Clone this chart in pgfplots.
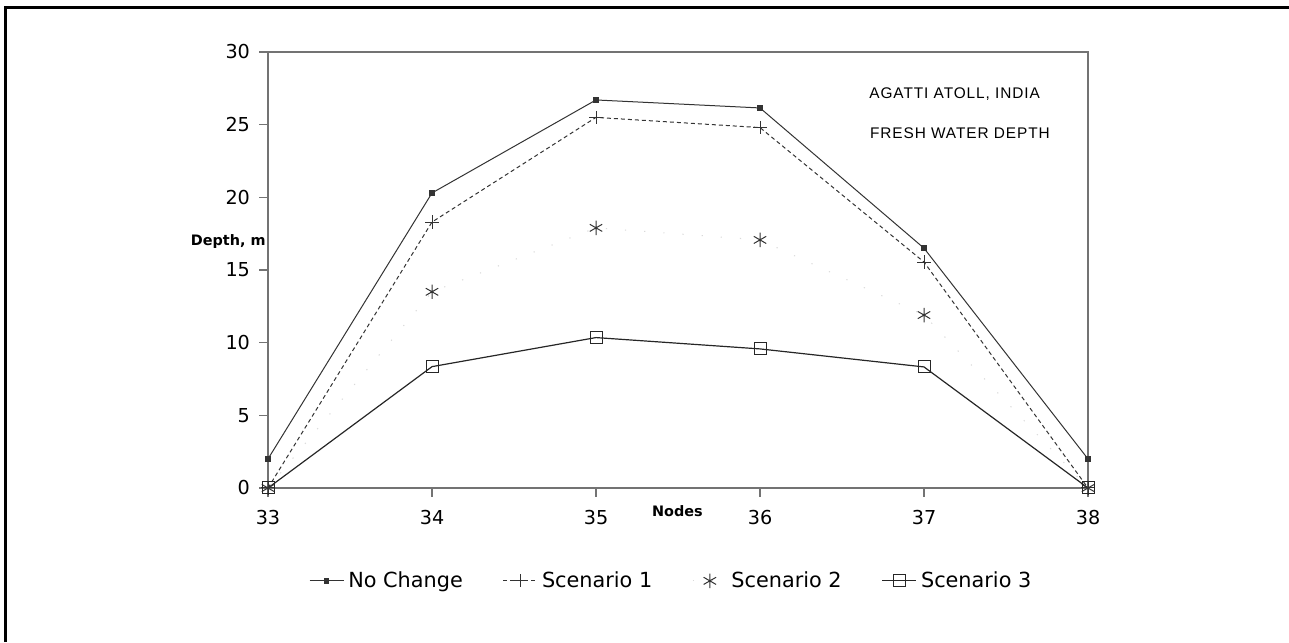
\documentclass[border=0pt]{standalone}
\usepackage{pgfplots}
\pgfplotsset{compat=1.18}
\usepackage{fontspec}
\setmainfont{DejaVu Sans}
\newfontfamily\spaced{Liberation Sans}[LetterSpace=6]
\usetikzlibrary{plotmarks}
\begin{document}
\begin{tikzpicture}
\useasboundingbox (0,0) rectangle (644.5pt,321pt);
\draw[line width=1.5pt,black] (2.5pt,0) -- (2.5pt,317pt) -- (650pt,317pt);
\begin{axis}[
  at={(134pt,77pt)}, anchor=south west,
  scale only axis, width=410pt, height=218pt,
  xmin=33, xmax=38, ymin=0, ymax=30,
  xtick={33,34,35,36,37,38}, ytick={0,5,10,15,20,25,30},
  axis line style={black!55, line width=0.6pt},
  tick style={black!55, line width=0.6pt},
  tick align=outside, tick pos=left,
  major tick length=4.5pt,
  /pgf/number format/assume math mode=true,
  ticklabel style={font=\fontsize{9.6}{11}\selectfont},
  xticklabel style={yshift=-3pt},
  yticklabel style={xshift=-1pt},
  clip=false,
  legend columns=4,
  legend style={at={(0.493,-0.213)}, anchor=center, draw=none, fill=none,
    font=\fontsize{10.4}{12}\selectfont, column sep=0pt},
  legend cell align=left,
  /tikz/every even column/.append style={column sep=18pt},
]
\addplot[black!80, line width=0.5pt, mark=square*, mark size=1.1pt, mark options={solid}]
  coordinates {(33,2.0) (34,20.3) (35,26.7) (36,26.15) (37,16.5) (38,2.0)};
\addlegendentry{No Change}
\addplot[black!80, line width=0.5pt, dash pattern=on 2pt off 1.5pt, mark=+, mark size=3.3pt, mark options={solid, line width=0.5pt}]
  coordinates {(33,0) (34,18.3) (35,25.5) (36,24.8) (37,15.55) (38,0)};
\addlegendentry{Scenario 1}
\addplot[black!15, line width=0.5pt, dash pattern=on 0.6pt off 9pt, mark=asterisk, mark size=3.6pt, mark options={solid, black!80, line width=0.5pt}]
  coordinates {(33,0) (34,13.5) (35,17.9) (36,17.07) (37,11.9) (38,0)};
\addlegendentry{Scenario 2}
\addplot[black!85, line width=0.6pt, mark=square, mark size=3pt, mark options={solid, line width=0.5pt}]
  coordinates {(33,0) (34,8.35) (35,10.35) (36,9.57) (37,8.33) (38,0)};
\addlegendentry{Scenario 3}
\node[anchor=east, font=\spaced\fontsize{7.7}{9}\selectfont] at (axis cs:37.75,27.1) {AGATTI ATOLL, INDIA};
\node[anchor=east, font=\spaced\fontsize{7.7}{9}\selectfont] at (axis cs:37.81,24.4) {FRESH WATER DEPTH};
\node[anchor=east, inner sep=1pt, font=\bfseries\fontsize{7.2}{8}\selectfont] at (axis cs:33,16.95) {Depth, m};
\node[anchor=west, inner sep=0pt, font=\bfseries\fontsize{7.2}{8}\selectfont] at (axis cs:35.34,-1.58) {Nodes};
\end{axis}
\end{tikzpicture}
\end{document}
